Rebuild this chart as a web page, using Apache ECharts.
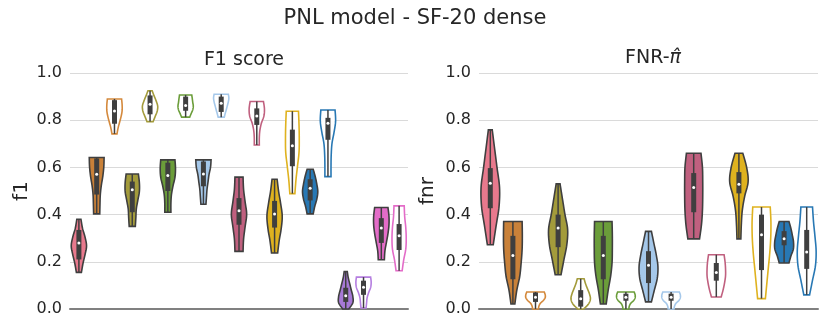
<!DOCTYPE html>
<html>
<head>
<meta charset="utf-8">
<script src="https://cdn.jsdelivr.net/npm/echarts@6/dist/echarts.min.js"></script>
<style>
  html, body { margin: 0; padding: 0; background: #fff; }
  #chart { width: 830px; height: 332px; }
</style>
</head>
<body>
<div id="chart"></div>
<script>
  // violin slots (no tick labels on x)
  const f1Slots = ['1', '2', '3', '4', '5', '6', '7', '8', '9', '10', '11', '12', '13', '14', '15', '16', '17', '18', '19']
  const fnrSlots = ['1', '2', '3', '4', '5', '6', '7', '8', '9', '10', '11', '12', '13', '14', '15']

  const slotColors = ['#e8798d', '#c98139', '#d4893c', '#a39b3b', '#a39b3b', '#6b9d3a', '#6b9d3a',
    '#a5c8ea', '#a5c8ea', '#c0607f', '#c0607f', '#dfb21f', '#dfb21f', '#2878b4', '#2878b4',
    '#a779d6', '#b57ee0', '#e36cc8', '#e36cc8']
  const slotFilled = [true, true, false, true, false, true, false, true, false, true, false,
    true, false, true, false, true, false, true, false]

  // F1 score: range, quartiles, median
  const f1Min = [0.155, 0.403, 0.742, 0.35, 0.794, 0.41, 0.813, 0.444, 0.813, 0.244, 0.695, 0.237, 0.489, 0.403, 0.561, 0.0, 0.004, 0.209, 0.162]
  const f1Q1 = [0.21, 0.485, 0.785, 0.41, 0.825, 0.50, 0.84, 0.52, 0.835, 0.357, 0.78, 0.345, 0.605, 0.46, 0.717, 0.03, 0.06, 0.28, 0.25]
  const f1Med = [0.28, 0.571, 0.839, 0.505, 0.868, 0.566, 0.862, 0.572, 0.872, 0.416, 0.818, 0.403, 0.692, 0.512, 0.787, 0.056, 0.092, 0.343, 0.31]
  const f1Q3 = [0.335, 0.638, 0.885, 0.54, 0.905, 0.62, 0.90, 0.625, 0.90, 0.47, 0.85, 0.458, 0.76, 0.55, 0.81, 0.09, 0.12, 0.385, 0.36]
  const f1Max = [0.38, 0.642, 0.89, 0.572, 0.925, 0.632, 0.907, 0.632, 0.91, 0.559, 0.879, 0.55, 0.838, 0.592, 0.843, 0.159, 0.135, 0.43, 0.437]
  // relative density, bottom -> top, evenly spaced from min to max
  const f1Density = [
    [0.33, 0.53, 0.8, 1, 0.8, 0.47, 0.27],
    [0.4, 0.43, 0.47, 0.6, 0.8, 0.93, 0.97],
    [0.33, 0.47, 0.67, 0.87, 1, 1, 0.93],
    [0.4, 0.47, 0.53, 0.73, 0.93, 0.93, 0.8],
    [0.4, 0.67, 0.93, 1, 0.8, 0.53, 0.27],
    [0.4, 0.4, 0.47, 0.67, 0.93, 1, 0.93],
    [0.53, 0.73, 0.93, 1, 0.93, 0.87, 0.8],
    [0.33, 0.4, 0.47, 0.6, 0.73, 0.93, 1],
    [0.4, 0.53, 0.67, 0.8, 0.93, 1, 0.93],
    [0.53, 0.6, 0.8, 1, 0.8, 0.6, 0.53],
    [0.33, 0.33, 0.4, 0.6, 0.93, 1, 0.87],
    [0.4, 0.6, 0.87, 1, 0.8, 0.53, 0.33],
    [0.33, 0.47, 0.67, 0.87, 0.9, 0.87, 0.8],
    [0.4, 0.6, 0.87, 1, 0.87, 0.67, 0.4],
    [0.4, 0.4, 0.43, 0.53, 0.8, 1, 0.93],
    [0.4, 0.93, 0.93, 0.73, 0.53, 0.33, 0.2],
    [0.33, 0.4, 0.47, 0.67, 0.93, 1, 0.93],
    [0.4, 0.47, 0.67, 0.87, 1, 1, 0.87],
    [0.4, 0.6, 0.87, 0.93, 0.87, 0.73, 0.67]
  ]

  // FNR
  const fnrMin = [0.272, 0.021, 0.0, 0.145, 0.0, 0.021, 0.0, 0.03, 0.0, 0.297, 0.051, 0.297, 0.044, 0.195, 0.06]
  const fnrQ1 = [0.427, 0.126, 0.03, 0.262, 0.01, 0.126, 0.035, 0.11, 0.035, 0.41, 0.12, 0.49, 0.165, 0.27, 0.17]
  const fnrMed = [0.533, 0.227, 0.05, 0.343, 0.043, 0.227, 0.05, 0.185, 0.05, 0.515, 0.155, 0.529, 0.315, 0.298, 0.241]
  const fnrQ3 = [0.597, 0.31, 0.07, 0.40, 0.08, 0.31, 0.065, 0.245, 0.065, 0.576, 0.195, 0.58, 0.40, 0.33, 0.335]
  const fnrMax = [0.759, 0.371, 0.072, 0.53, 0.128, 0.371, 0.072, 0.329, 0.072, 0.66, 0.23, 0.66, 0.432, 0.371, 0.432]
  const fnrDensity = [
    [0.3, 0.6, 0.9, 0.95, 0.7, 0.45, 0.2],
    [0.2, 0.4, 0.7, 0.85, 0.95, 0.97, 0.95],
    [0.3, 0.35, 0.5, 0.8, 1, 1, 0.9],
    [0.3, 0.6, 0.9, 0.98, 0.7, 0.45, 0.2],
    [0.3, 0.8, 1, 0.9, 0.7, 0.5, 0.35],
    [0.3, 0.5, 0.75, 0.9, 0.93, 0.93, 0.9],
    [0.3, 0.35, 0.5, 0.8, 0.95, 0.95, 0.85],
    [0.3, 0.6, 0.9, 0.97, 0.8, 0.55, 0.3],
    [0.3, 0.35, 0.5, 0.8, 0.95, 0.95, 0.85],
    [0.6, 0.8, 0.9, 0.93, 0.93, 0.9, 0.75],
    [0.5, 0.7, 0.85, 0.95, 0.95, 0.9, 0.8],
    [0.2, 0.25, 0.35, 0.6, 0.95, 0.8, 0.4],
    [0.4, 0.55, 0.7, 0.85, 0.95, 0.97, 0.9],
    [0.5, 0.7, 0.95, 0.97, 0.85, 0.7, 0.5],
    [0.3, 0.6, 0.9, 0.97, 0.85, 0.7, 0.6]
  ]

  const yTicks = [0, 0.2, 0.4, 0.6, 0.8, 1.0]

  const MAX_HALF = 0.43   // widest half-width, in category bands
  const EDGE = '#3f3f3f'
  const FONT = 'DejaVu Sans'

  // smooth a side of the outline (drawing only)
  function smoothSide(pts) {
    const out = []
    for (let k = 0; k < pts.length - 1; k++) {
      const p0 = pts[Math.max(k - 1, 0)], p1 = pts[k], p2 = pts[k + 1], p3 = pts[Math.min(k + 2, pts.length - 1)]
      for (let s = 0; s < 8; s++) {
        const t = s / 8, t2 = t * t, t3 = t2 * t
        out.push([0, 1].map(j => 0.5 * ((2 * p1[j]) + (-p0[j] + p2[j]) * t +
          (2 * p0[j] - 5 * p1[j] + 4 * p2[j] - p3[j]) * t2 + (-p0[j] + 3 * p1[j] - 3 * p2[j] + p3[j]) * t3)))
      }
    }
    out.push(pts[pts.length - 1])
    return out
  }

  function violinSeries(axisIdx, lo, q1, med, q3, hi, dens) {
    return {
      type: 'custom',
      xAxisIndex: axisIdx,
      yAxisIndex: axisIdx,
      data: med.map((m, i) => [i, m]),
      renderItem(params, api) {
        const i = params.dataIndex
        const band = api.size([1, 0])[0]
        const cx = api.coord([i, 0])[0]
        const yOf = v => api.coord([i, v])[1]
        const d = dens[i]
        const n = d.length
        const right = []
        for (let k = 0; k < n; k++) {
          const v = lo[i] + (hi[i] - lo[i]) * k / (n - 1)
          right.push([d[k] * MAX_HALF * band, yOf(v)])
        }
        const side = smoothSide(right)
        const pts = side.map(p => [cx + p[0], p[1]])
          .concat(side.slice().reverse().map(p => [cx - p[0], p[1]]))
        const filled = slotFilled[i]
        const color = slotColors[i]
        return {
          type: 'group',
          children: [
            {
              type: 'polygon',
              shape: { points: pts },
              style: { fill: filled ? color : '#fff', stroke: filled ? EDGE : color, lineWidth: 1.6 }
            },
            {
              type: 'line',
              shape: { x1: cx, y1: yOf(lo[i]), x2: cx, y2: yOf(hi[i]) },
              style: { stroke: EDGE, lineWidth: 1.5 }
            },
            {
              type: 'rect',
              shape: { x: cx - 2.5, y: yOf(q3[i]), width: 5, height: yOf(q1[i]) - yOf(q3[i]) },
              style: { fill: EDGE }
            },
            {
              type: 'circle',
              shape: { cx: cx, cy: yOf(med[i]), r: 1.5 },
              style: { fill: '#fff' }
            }
          ]
        }
      }
    }
  }

  function xAxisFor(gridIdx, slots) {
    return {
      type: 'category',
      gridIndex: gridIdx,
      data: slots,
      axisTick: { show: false },
      axisLabel: { show: false },
      axisLine: { lineStyle: { color: '#808080', width: 2 } }
    }
  }

  function yAxisFor(gridIdx, name, gap) {
    return {
      type: 'value',
      gridIndex: gridIdx,
      min: yTicks[0],
      max: yTicks[yTicks.length - 1],
      interval: 0.2,
      name: name,
      nameLocation: 'middle',
      nameGap: gap,
      nameTextStyle: { fontFamily: FONT, fontSize: 20, color: '#262626' },
      axisLine: { show: false },
      axisTick: { show: false },
      axisLabel: {
        fontFamily: FONT, fontSize: 16, color: '#262626', margin: 8,
        formatter: v => v.toFixed(1)
      },
      splitLine: { lineStyle: { color: '#dadada', width: 1 } }
    }
  }

  const chart = echarts.init(document.getElementById('chart'))
  chart.setOption({
    animation: false,
    title: [
      {
        text: 'PNL model - SF-20 dense',
        left: 'center', top: 3,
        textStyle: { fontFamily: FONT, fontSize: 21, fontWeight: 'normal', color: '#262626' }
      },
      {
        text: 'F1 score',
        left: 239, top: 46, textAlign: 'center',
        textStyle: { fontFamily: FONT, fontSize: 19, fontWeight: 'normal', color: '#262626' }
      },
      {
        text: '{a|FNR-}{b|π̂}',
        left: 648, top: 44, textAlign: 'center',
        textStyle: {
          fontFamily: FONT, fontSize: 19, fontWeight: 'normal', color: '#262626',
          rich: {
            a: { fontFamily: FONT, fontSize: 19, color: '#262626' },
            b: { fontFamily: FONT, fontSize: 19, fontStyle: 'italic', color: '#262626' }
          }
        }
      }
    ],
    grid: [
      { left: 70, right: 422, top: 73, bottom: 23 },
      { left: 479, right: 12, top: 73, bottom: 23 }
    ],
    xAxis: [xAxisFor(0, f1Slots), xAxisFor(1, fnrSlots)],
    yAxis: [yAxisFor(0, 'f1', 38), yAxisFor(1, 'fnr', 41)],
    series: [
      violinSeries(0, f1Min, f1Q1, f1Med, f1Q3, f1Max, f1Density),
      violinSeries(1, fnrMin, fnrQ1, fnrMed, fnrQ3, fnrMax, fnrDensity)
    ]
  })
</script>
</body>
</html>
